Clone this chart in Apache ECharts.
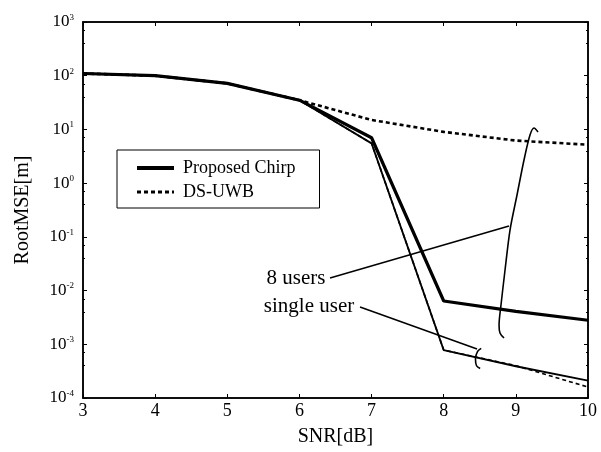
<!DOCTYPE html>
<html>
<head>
<meta charset="utf-8">
<script src="https://cdn.jsdelivr.net/npm/echarts@6/dist/echarts.min.js"></script>
<style>
html,body{margin:0;padding:0;background:#fff;}
#c{width:601px;height:452px;}
</style>
</head>
<body>
<div id="c"></div>
<script>
// ---- data ----
const snr = [3, 4, 5, 6, 7, 8, 9, 10];
const chirp8 = [110, 100, 72, 35, 7.0, 0.0064, 0.0041, 0.0028];
const chirp1 = [110, 100, 72, 35, 5.5, 0.00078, 0.00039, 0.00021];
const dsuwb8 = [110, 100, 72, 35, 15, 9, 6.2, 5.2];
const dsuwb1 = [110, 100, 72, 35, 5.5, 0.00078, 0.00040, 0.00016];
const legendNames = ['Proposed Chirp', 'DS-UWB'];
const xTicks = [3, 4, 5, 6, 7, 8, 9, 10];
const yExponents = [-4, -3, -2, -1, 0, 1, 2, 3];

// annotation strokes in data space: [snr, log10(value)]
const brace8 = [[9.307,0.952],[9.252,1.026],[9.196,0.896],[9.113,0.431],[9.016,-0.221],[8.919,-0.873],[8.850,-1.617],[8.794,-2.269],[8.767,-2.641],[8.780,-2.790],[8.836,-2.883]];
const brace1 = [[8.52,-3.075],[8.47,-3.13],[8.44,-3.27],[8.455,-3.40],[8.505,-3.45]];
const pointer8 = [[6.424,-1.766],[8.905,-0.798]];
const pointer1 = [[6.840,-2.306],[8.462,-3.088]];
const label8 = {text: '8 users', at: [6.36, -1.766]};
const label1 = {text: 'single user', at: [6.76, -2.29]};

const FONT = '"Liberation Serif", "DejaVu Serif", serif';
const pair = (xs, ys) => xs.map((x, i) => [x, ys[i]]);
const toVals = pts => pts.map(p => [p[0], Math.pow(10, p[1])]);

const chart = echarts.init(document.getElementById('c'), null, {renderer: 'canvas'});

function annot(pts, w) {
  return {
    type: 'line', name: '', data: toVals(pts), symbol: 'none', silent: true,
    smooth: pts.length > 2 ? 0.3 : false,
    lineStyle: {color: '#000', width: w}, z: 5, legendHoverLink: false
  };
}

const yLabel = v => {
  const e = Math.round(Math.log10(v));
  return '10{s|' + (e < 0 ? '-' + (-e) : e) + '}';
};

const option = {
  animation: false,
  backgroundColor: '#fff',
  grid: {left: 83, right: 13, top: 22, bottom: 54, show: true, borderColor: '#000', borderWidth: 1.5},
  legend: {
    data: [
      {name: legendNames[0], lineStyle: {color: '#000', width: 4, type: 'solid'}},
      {name: legendNames[1], lineStyle: {color: '#000', width: 3, type: [4, 3]}}
    ],
    orient: 'vertical', left: 117, top: 150,
    itemWidth: 37, itemHeight: 14, itemGap: 6,
    padding: [9, 24, 7, 18],
    borderColor: '#000', borderWidth: 1, backgroundColor: '#fff',
    itemStyle: {opacity: 0},
    textStyle: {fontFamily: FONT, fontSize: 18, color: '#000', padding: [0, 0, 0, 4]}
  },
  xAxis: [{
    type: 'value', min: 3, max: 10, interval: 1,
    name: 'SNR[dB]', nameLocation: 'middle', nameGap: 29,
    nameTextStyle: {fontFamily: FONT, fontSize: 20, color: '#000'},
    axisLine: {show: true, lineStyle: {color: '#000', width: 1.5}},
    axisTick: {show: true, inside: true, length: 4, lineStyle: {color: '#000'}},
    axisLabel: {fontFamily: FONT, fontSize: 18, color: '#000', margin: 4,
      formatter: v => xTicks.includes(v) ? String(v) : ''},
    splitLine: {show: false}
  }, {
    type: 'value', min: 3, max: 10, interval: 1, position: 'top',
    axisLine: {show: true, lineStyle: {color: '#000', width: 1.5}},
    axisTick: {show: true, inside: true, length: 4, lineStyle: {color: '#000'}},
    axisLabel: {show: false}, splitLine: {show: false}
  }],
  yAxis: [{
    type: 'log', logBase: 10, min: 1e-4, max: 1e3,
    name: 'RootMSE[m]', nameLocation: 'middle', nameGap: 50,
    nameTextStyle: {fontFamily: FONT, fontSize: 20, color: '#000'},
    axisLine: {show: true, lineStyle: {color: '#000', width: 1.5}},
    axisTick: {show: true, inside: true, length: 4, lineStyle: {color: '#000'}},
    minorTick: {show: true, splitNumber: 3, length: 2, lineStyle: {color: '#000'}},
    axisLabel: {fontFamily: FONT, fontSize: 17, color: '#000', margin: 9,
      formatter: yLabel,
      rich: {s: {fontFamily: FONT, fontSize: 9, color: '#000', verticalAlign: 'top', padding: [0, 0, 9, 0]}}},
    splitLine: {show: false}
  }, {
    type: 'log', logBase: 10, min: 1e-4, max: 1e3, position: 'right',
    axisLine: {show: true, lineStyle: {color: '#000', width: 1.5}},
    axisTick: {show: true, inside: true, length: 4, lineStyle: {color: '#000'}},
    minorTick: {show: true, splitNumber: 3, length: 2, lineStyle: {color: '#000'}},
    axisLabel: {show: false}, splitLine: {show: false}
  }],
  series: [
    {name: 'Proposed Chirp', type: 'line', data: pair(snr, chirp8), symbol: 'none',
      lineStyle: {color: '#000', width: 3.2}, itemStyle: {color: '#000'}, z: 4},
    {name: 'DS-UWB', type: 'line', data: pair(snr, dsuwb8), symbol: 'none',
      lineStyle: {color: '#000', width: 2.6, type: [4, 3]}, itemStyle: {color: '#000'}, z: 3},
    {name: 'Proposed Chirp', type: 'line', data: pair(snr, chirp1), symbol: 'none',
      lineStyle: {color: '#000', width: 1.8}, itemStyle: {color: '#000'}, z: 4},
    {name: 'DS-UWB', type: 'line', data: pair(snr, dsuwb1), symbol: 'none',
      lineStyle: {color: '#000', width: 1.6, type: [4, 3]}, itemStyle: {color: '#000'}, z: 3},
    annot(brace8, 1.6),
    annot(brace1, 1.6),
    annot(pointer8, 1.6),
    annot(pointer1, 1.6)
  ]
};
chart.setOption(option);

function placeLabels() {
  const g = [label8, label1].map(l => {
    const p = chart.convertToPixel({xAxisIndex: 0, yAxisIndex: 0}, [l.at[0], Math.pow(10, l.at[1])]);
    return {type: 'text', x: p[0], y: p[1], z: 10,
      style: {text: l.text, fontFamily: FONT, fontSize: 21, fill: '#000', align: 'right', verticalAlign: 'middle'}};
  });
  chart.setOption({graphic: g});
}
placeLabels();
</script>
</body>
</html>
